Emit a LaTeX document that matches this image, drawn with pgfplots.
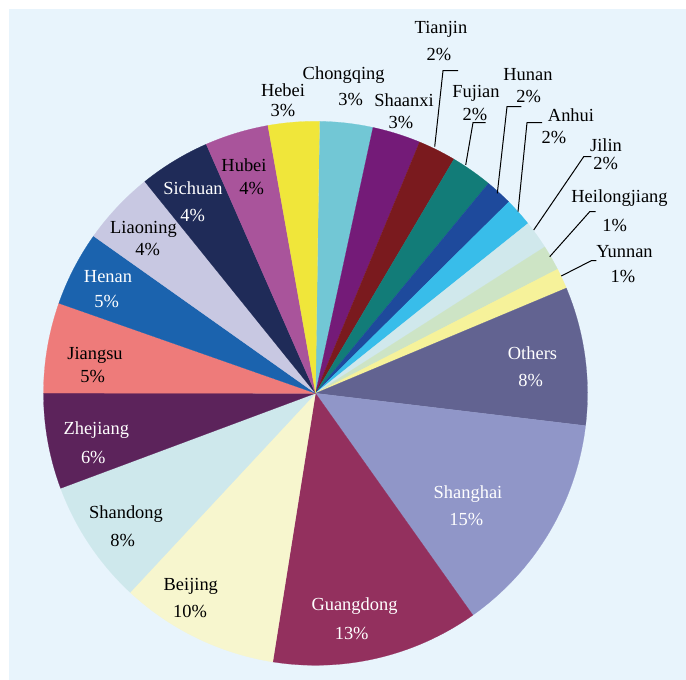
\documentclass[border=0pt]{standalone}
\usepackage{pgfplots}
\pgfplotsset{compat=1.18}
\usepackage{fontspec}
\setmainfont{Liberation Serif}
\definecolor{bgblue}{HTML}{E8F4FC}
\definecolor{cChongqing}{HTML}{72C7D5}
\definecolor{cShaanxi}{HTML}{741B78}
\definecolor{cTianjin}{HTML}{7A1A1E}
\definecolor{cFujian}{HTML}{127C78}
\definecolor{cHunan}{HTML}{1E4A9C}
\definecolor{cAnhui}{HTML}{38BDEA}
\definecolor{cJilin}{HTML}{D0E8EC}
\definecolor{cHeilongjiang}{HTML}{CDE4C5}
\definecolor{cYunnan}{HTML}{F6F29A}
\definecolor{cOthers}{HTML}{626391}
\definecolor{cShanghai}{HTML}{9096C8}
\definecolor{cGuangdong}{HTML}{93305E}
\definecolor{cBeijing}{HTML}{F7F6CE}
\definecolor{cShandong}{HTML}{CEE8EC}
\definecolor{cZhejiang}{HTML}{5C235B}
\definecolor{cJiangsu}{HTML}{EE7B7A}
\definecolor{cHenan}{HTML}{1B63AE}
\definecolor{cLiaoning}{HTML}{C8C8E2}
\definecolor{cSichuan}{HTML}{1F2B58}
\definecolor{cHubei}{HTML}{A9549B}
\definecolor{cHebei}{HTML}{F0E63A}
\def\cx{315.5}\def\cy{286.7}\def\R{272}
\tikzset{lbl/.style={font=\fontsize{18.5}{22}\selectfont, inner sep=0pt}}
\begin{document}
\begin{tikzpicture}
\begin{axis}[
  scale only axis, width=686bp, height=680bp,
  xmin=0, xmax=686, ymin=0, ymax=680,
  hide axis, clip=false,
]
\addplot[fill=white, draw=none] coordinates {(0,0) (686,0) (686,680) (0,680)} -- cycle;
\addplot[fill=bgblue, draw=none] coordinates {(9,0) (686,0) (686,671) (9,671)} -- cycle;
% slices, clockwise from 89.1 degrees; values in percent
\xdef\cum{89.1}
\foreach \v/\c in {3.14/cChongqing, 2.86/cShaanxi, 2.25/cTianjin, 2.47/cFujian,
  1.61/cHunan, 1.69/cAnhui, 1.69/cJilin, 1.50/cHeilongjiang, 1.22/cYunnan,
  8.22/cOthers, 13.28/cShanghai, 12.33/cGuangdong, 9.42/cBeijing, 7.39/cShandong,
  5.69/cZhejiang, 5.36/cJiangsu, 4.44/cHenan, 4.39/cLiaoning, 4.22/cSichuan,
  3.78/cHubei, 3.03/cHebei}{
  \pgfmathsetmacro\angA{\cum}
  \pgfmathsetmacro\angB{\cum-3.6*\v}
  \edef\tmp{\noexpand\addplot[fill=\c, draw=\c, line width=0.2pt, domain=\angB:\angA, samples=60]
    ({\cx+\R*cos(x)},{\cy+\R*sin(x)}) -- (axis cs:\cx,\cy) -- cycle;}
  \tmp
  \global\let\cum\angB
}
% leader lines
\addplot[black, line width=1bp] coordinates {(434.7,533.3) (443,609.3) (458,609.3)};
\addplot[black, line width=1bp] coordinates {(465.7,515) (473,557.3) (485.7,557.3)};
\addplot[black, line width=1bp] coordinates {(497.3,486.7) (507,573.3) (521.3,573.3)};
\addplot[black, line width=1bp] coordinates {(518,468.3) (527,557.3) (542,557.3)};
\addplot[black, line width=1bp] coordinates {(533.7,450) (583.7,523.3) (591.3,523.3)};
\addplot[black, line width=1bp] coordinates {(549.7,423.3) (589.7,468.3) (595.7,468.3)};
\addplot[black, line width=1bp] coordinates {(561.3,404) (591.3,419.3) (596.3,419.3)};
% outside labels
\node[lbl] at (axis cs:283,590) {Hebei};
\node[lbl] at (axis cs:283,569) {3\%};
\node[lbl] at (axis cs:343.7,605) {Chongqing};
\node[lbl] at (axis cs:350.7,580) {3\%};
\node[lbl] at (axis cs:404,580) {Shaanxi};
\node[lbl] at (axis cs:401,557) {3\%};
\node[lbl] at (axis cs:441,651) {Tianjin};
\node[lbl] at (axis cs:439,625) {2\%};
\node[lbl] at (axis cs:476,587) {Fujian};
\node[lbl] at (axis cs:475,565) {2\%};
\node[lbl] at (axis cs:528,605) {Hunan};
\node[lbl] at (axis cs:528.7,583.3) {2\%};
\node[lbl] at (axis cs:571,565) {Anhui};
\node[lbl] at (axis cs:554,542.7) {2\%};
\node[lbl] at (axis cs:606,535) {Jilin};
\node[lbl] at (axis cs:605.7,516.7) {2\%};
\node[lbl] at (axis cs:619.5,481.7) {Heilongjiang};
\node[lbl] at (axis cs:614.7,454) {1\%};
\node[lbl] at (axis cs:624.5,428.3) {Yunnan};
\node[lbl] at (axis cs:623,403.3) {1\%};
% inside labels
\node[lbl] at (axis cs:244,515) {Hubei};
\node[lbl] at (axis cs:251.7,491.7) {4\%};
\node[lbl,white] at (axis cs:193,492) {Sichuan};
\node[lbl,white] at (axis cs:192.7,464) {4\%};
\node[lbl] at (axis cs:143.5,451) {Liaoning};
\node[lbl] at (axis cs:147.7,430) {4\%};
\node[lbl,white] at (axis cs:108,403) {Henan};
\node[lbl,white] at (axis cs:106.7,378.3) {5\%};
\node[lbl] at (axis cs:95,325) {Jiangsu};
\node[lbl] at (axis cs:92.7,303.3) {5\%};
\node[lbl,white] at (axis cs:96.3,250) {Zhejiang};
\node[lbl,white] at (axis cs:93.3,222.7) {6\%};
\node[lbl] at (axis cs:126,166) {Shandong};
\node[lbl] at (axis cs:122.7,139.3) {8\%};
\node[lbl] at (axis cs:190.8,94) {Beijing};
\node[lbl] at (axis cs:190,68.3) {10\%};
\node[lbl,white] at (axis cs:354.5,74) {Guangdong};
\node[lbl,white] at (axis cs:351.7,46.7) {13\%};
\node[lbl,white] at (axis cs:468,186) {Shanghai};
\node[lbl,white] at (axis cs:466.3,160) {15\%};
\node[lbl,white] at (axis cs:532.5,326.7) {Others};
\node[lbl,white] at (axis cs:530.7,299.3) {8\%};
\end{axis}
\end{tikzpicture}
\end{document}
